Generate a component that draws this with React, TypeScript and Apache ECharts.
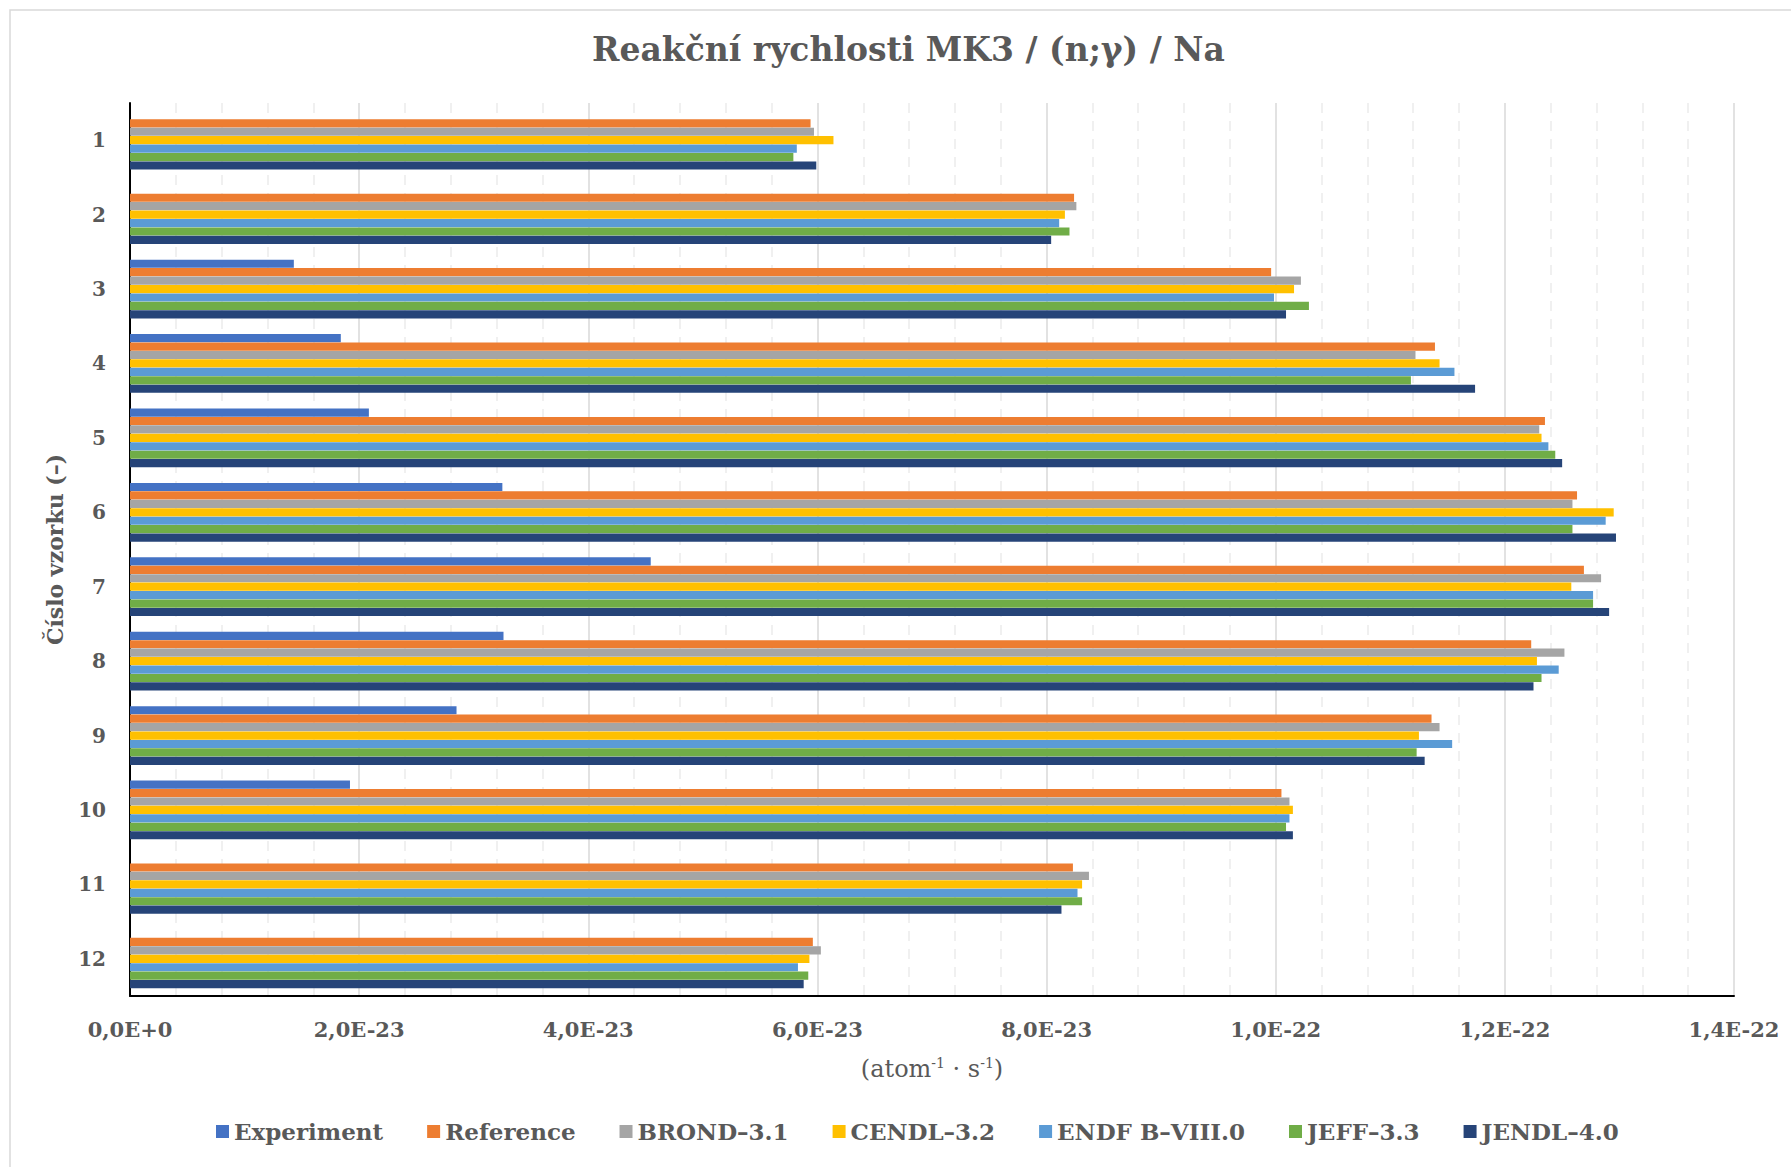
import React, { useEffect, useRef } from "react";
import * as echarts from "echarts";

// values are in units of 1e-23 atom^-1 s^-1
const UNIT = 1e-23;
const categories = ["1", "2", "3", "4", "5", "6", "7", "8", "9", "10", "11", "12"];
const seriesNames = ["Experiment", "Reference", "BROND–3.1", "CENDL–3.2", "ENDF B–VIII.0", "JEFF–3.3", "JENDL–4.0"];
const colors = ["#4472C4", "#ED7D31", "#A5A5A5", "#FFC000", "#5B9BD5", "#70AD47", "#264478"];

const experiment = [null, null, 1.43, 1.84, 2.085, 3.25, 4.545, 3.26, 2.85, 1.92, null, null];
const reference = [5.94, 8.24, 9.96, 11.39, 12.35, 12.63, 12.69, 12.23, 11.36, 10.05, 8.23, 5.96];
const brond = [5.97, 8.26, 10.22, 11.22, 12.3, 12.59, 12.84, 12.52, 11.43, 10.12, 8.37, 6.03];
const cendl = [6.14, 8.16, 10.16, 11.43, 12.32, 12.95, 12.58, 12.28, 11.25, 10.15, 8.31, 5.93];
const endf = [5.82, 8.11, 9.985, 11.56, 12.38, 12.88, 12.77, 12.47, 11.54, 10.12, 8.27, 5.83];
const jeff = [5.79, 8.2, 10.29, 11.18, 12.44, 12.59, 12.77, 12.32, 11.23, 10.09, 8.31, 5.92];
const jendl = [5.99, 8.04, 10.09, 11.74, 12.5, 12.97, 12.91, 12.25, 11.3, 10.15, 8.13, 5.88];

const xMin = 0;
const xMax = 14;
const xInterval = 2;

const FONT = "DejaVu Serif";
const TXT = "#595959";

function fmtSci(v: number): string {
  if (v === 0) return "0,0E+0";
  const real = v * UNIT;
  const e = Math.floor(Math.log10(real) + 1e-9);
  const m = real / Math.pow(10, e);
  return m.toFixed(1).replace(".", ",") + "E" + (e < 0 ? "-" + -e : "+" + e);
}

export default function App() {
  const ref = useRef<HTMLDivElement>(null);
  useEffect(() => {
    document.body.style.margin = "0";
    const chart = echarts.init(ref.current!, null, { renderer: "svg" });
    const all = [experiment, reference, brond, cendl, endf, jeff, jendl];
    const series = all.map((d, i) => ({
      name: seriesNames[i],
      type: "bar",
      data: d,
      barGap: "3%",
      barCategoryGap: "21%",
      itemStyle: { color: colors[i] },
    }));
    chart.setOption({
      animation: false,
      backgroundColor: "#fff",
      textStyle: { fontFamily: FONT },
      graphic: [
        {
          type: "rect",
          silent: true,
          z: -10,
          shape: { x: 10, y: 10, width: 1800, height: 1170 },
          style: { fill: "none", stroke: "#d9d9d9", lineWidth: 1.5 },
        },
      ],
      title: {
        text: "Reakční rychlosti MK3 / (n;γ) / Na",
        left: 587,
        top: 28,
        textStyle: { fontFamily: FONT, fontSize: 33, fontWeight: "bold", color: TXT },
      },
      legend: {
        bottom: 19,
        left: 211,
        itemWidth: 13,
        itemHeight: 13,
        itemGap: 44,
        icon: "rect",
        textStyle: { fontFamily: FONT, fontSize: 23, fontWeight: "bold", color: TXT },
        data: seriesNames,
      },
      grid: { left: 130, right: 57, top: 103, bottom: 171, containLabel: false },
      xAxis: {
        type: "value",
        min: xMin,
        max: xMax,
        interval: xInterval,
        name: "(atom{sup|-1} · s{sup|-1})",
        nameLocation: "middle",
        nameGap: 60,
        nameTextStyle: {
          fontFamily: FONT,
          fontSize: 24,
          color: TXT,
          rich: { sup: { fontFamily: FONT, fontSize: 14, color: TXT, padding: [0, 0, 12, 0] } },
        },
        axisLine: { show: true, lineStyle: { color: "#000", width: 2 } },
        axisTick: { show: false },
        axisLabel: {
          margin: 23,
          fontFamily: FONT,
          fontSize: 21,
          fontWeight: "bold",
          color: TXT,
          formatter: (v: number) => fmtSci(v),
        },
        splitLine: { show: true, lineStyle: { color: "#d9d9d9", width: 1.5 } },
        minorTick: { show: false, splitNumber: 5 },
        minorSplitLine: { show: true, lineStyle: { color: "#ececec", width: 1.5, type: [10, 8] } },
      },
      yAxis: {
        type: "category",
        data: categories,
        inverse: true,
        name: "Číslo vzorku (–)",
        nameLocation: "middle",
        nameGap: 64,
        nameTextStyle: { fontFamily: FONT, fontSize: 22, fontWeight: "bold", color: TXT },
        axisLine: { show: true, lineStyle: { color: "#000", width: 2 } },
        axisTick: { show: false },
        axisLabel: { margin: 24, fontFamily: FONT, fontSize: 20, fontWeight: "bold", color: TXT },
        splitLine: { show: false },
      },
      series,
    });
    return () => chart.dispose();
  }, []);
  return <div ref={ref} style={{ width: 1791, height: 1167 }} />;
}
